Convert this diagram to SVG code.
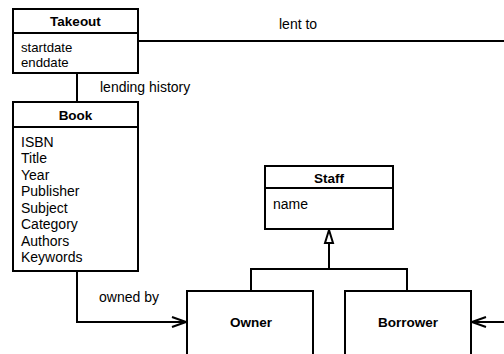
<svg xmlns="http://www.w3.org/2000/svg" width="504" height="354" viewBox="0 0 504 354">
<defs>
<style>
.box{fill:#fff;stroke:#000;stroke-width:2}
.ln{fill:none;stroke:#000;stroke-width:2}
text{font-family:"Liberation Sans",Arial,sans-serif;font-size:14px;fill:#000}
.h{font-weight:bold;font-size:13.5px;text-anchor:middle}
.s{font-size:13.2px}
</style>
<marker id="open" markerWidth="16" markerHeight="12" refX="15" refY="6" orient="auto" markerUnits="userSpaceOnUse">
<path d="M1,1 L15,6 L1,11" fill="none" stroke="#000" stroke-width="2"/>
</marker>
</defs>
<rect width="504" height="354" fill="#fff"/>
<g id="connectors">
<line class="ln" x1="138" y1="41" x2="504" y2="41"/>
<text x="279" y="29">lent to</text>
<line class="ln" x1="77" y1="73" x2="77" y2="102"/>
<text x="100" y="92">lending history</text>
<polyline class="ln" points="77,271 77,322 186,322" marker-end="url(#open)"/>
<text x="99" y="302">owned by</text>
<line class="ln" x1="504" y1="322" x2="472" y2="322" marker-end="url(#open)"/>
<polyline class="ln" points="251,291 251,269 407,269 407,291"/>
<line class="ln" x1="329" y1="269" x2="329" y2="243"/>
<polygon points="329,230 325,243 333,243" fill="#fff" stroke="#000" stroke-width="2"/>
</g>
<g id="takeout">
<rect class="box" x="13" y="9" width="125" height="64"/>
<line class="ln" x1="13" y1="33" x2="138" y2="33"/>
<text class="h" x="75.5" y="26">Takeout</text>
<text class="s" x="21" y="52">startdate</text>
<text class="s" x="21" y="67">enddate</text>
</g>
<g id="book">
<rect class="box" x="13" y="102" width="125" height="169"/>
<line class="ln" x1="13" y1="127" x2="138" y2="127"/>
<text class="h" x="75.5" y="120">Book</text>
<text x="21" y="147">ISBN</text>
<text x="21" y="163">Title</text>
<text x="21" y="180">Year</text>
<text x="21" y="196">Publisher</text>
<text x="21" y="213">Subject</text>
<text x="21" y="229">Category</text>
<text x="21" y="246">Authors</text>
<text x="21" y="262">Keywords</text>
</g>
<g id="staff">
<rect class="box" x="265" y="166" width="128" height="63"/>
<line class="ln" x1="265" y1="188" x2="393" y2="188"/>
<text class="h" x="329" y="183">Staff</text>
<text x="273" y="209">name</text>
</g>
<g id="owner">
<rect class="box" x="187" y="291" width="126" height="70"/>
<text class="h" x="251" y="327">Owner</text>
</g>
<g id="borrower">
<rect class="box" x="345" y="291" width="126" height="70"/>
<text class="h" x="408" y="327">Borrower</text>
</g>
</svg>
